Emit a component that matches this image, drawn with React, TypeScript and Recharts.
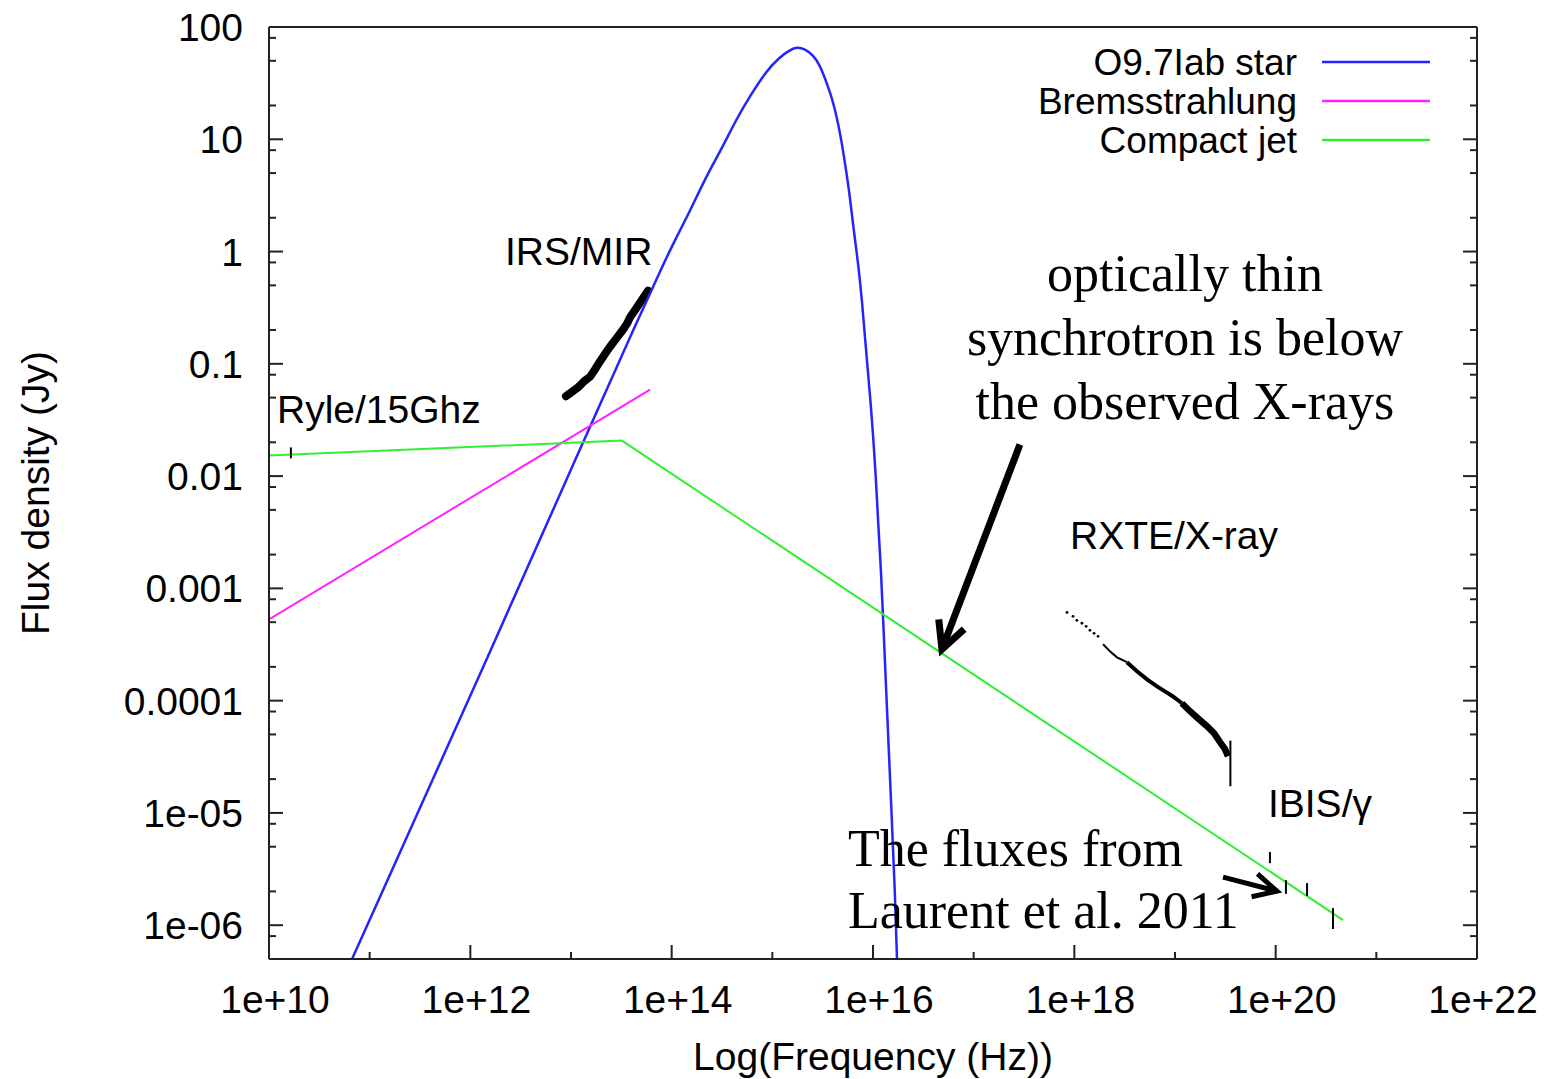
import React from 'react';
import {
  ComposedChart, Line, Scatter, XAxis, YAxis, ErrorBar,
  ReferenceLine, ReferenceDot, Legend,
} from 'recharts';

const SANS = '"Liberation Sans", Arial, sans-serif';
const SERIF = '"Liberation Serif", "Times New Roman", serif';
const AXIS = '#222';
const FS = 39;

// ---------- axes ----------
const xMajorTicks = [1e10, 1e12, 1e14, 1e16, 1e18, 1e20, 1e22];
const xMajorLabels = ['1e+10', '1e+12', '1e+14', '1e+16', '1e+18', '1e+20', '1e+22'];
const xMinorTicks = [1e11, 1e13, 1e15, 1e17, 1e19, 1e21];
const yMajorTicks = [1e-6, 1e-5, 1e-4, 1e-3, 1e-2, 0.1, 1, 10, 100];
const yMajorLabels = ['1e-06', '1e-05', '0.0001', '0.001', '0.01', '0.1', '1', '10', '100'];
const yMinorMultipliers = [2, 5, 8];

// ---------- legend ----------
const legendOrder = ['O9.7Iab star', 'Bremsstrahlung', 'Compact jet'];

// ---------- models ----------
const starFreq = [6.68e10, 1.970e12, 1.228e13, 4.845e13, 8.013e13, 1.104e14, 1.521e14, 2.243e14, 3.020e14, 4.456e14,
  5.998e14, 8.849e14, 1.191e15, 1.497e15, 1.758e15, 2.110e15, 2.534e15, 2.974e15, 3.492e15, 3.913e15,
  4.388e15, 4.808e15, 5.270e15, 5.774e15, 6.183e15, 6.622e15, 7.093e15, 7.775e15, 8.518e15, 9.333e15,
  9.995e15, 1.071e16, 1.121e16, 1.200e16, 1.256e16, 1.377e16, 1.509e16, 1.653e16, 1.731e16];
const starFlux = [5.0e-7, 4.26e-4, 0.01742, 0.2721, 0.7282, 1.320, 2.297, 4.806, 7.701, 15.47,
  24.29, 41.40, 54.05, 62.38, 66.36, 63.68, 56.31, 45.86, 31.07, 23.32,
  15.47, 10.26, 6.145, 3.533, 2.116, 1.267, 0.8070, 0.3702, 0.1327, 0.05275,
  0.02419, 9.23e-3, 4.06e-3, 1.457e-3, 5.79e-4, 8.42e-5, 1.302e-5, 1.974e-6, 5.0e-7];

const bremsFreq = [1e10, 6.10e13];
const bremsFlux = [5.30e-4, 0.0589];

const jetFreq = [1e10, 3.2e13, 4.67e20];
const jetFlux = [0.01525, 0.0207, 1.11e-6];

// ---------- observations ----------
const irsFreq = [8.9e12, 9.6e12, 1.17e13, 1.35e13, 1.55e13, 1.75e13, 1.94e13, 2.2e13, 2.44e13, 2.86e13, 3.28e13,
  3.6e13, 3.85e13, 4.42e13, 5.07e13, 5.82e13];
const irsFlux = [0.0515, 0.0540, 0.0614, 0.0700, 0.0769, 0.0905, 0.105, 0.124, 0.142, 0.171, 0.201,
  0.228, 0.258, 0.310, 0.372, 0.448];

const rxteDotFreq = [8.45e17, 9.70e17, 1.06e18, 1.19e18, 1.31e18, 1.43e18, 1.57e18, 1.72e18];
const rxteDotFlux = [6.11e-4, 5.64e-4, 5.19e-4, 4.89e-4, 4.59e-4, 4.23e-4, 3.98e-4, 3.74e-4];
const rxteFreq = [1.93e18, 2.26e18, 2.65e18, 3.33e18, 4.19e18, 5.27e18, 6.62e18, 7.95e18, 9.55e18, 1.17e19,
  1.41e19, 1.73e19, 2.08e19, 2.44e19, 2.80e19, 3.14e19, 3.36e19];
const rxteFlux = [3.18e-4, 2.75e-4, 2.43e-4, 2.20e-4, 1.83e-4, 1.55e-4, 1.34e-4, 1.21e-4, 1.09e-4, 9.48e-5,
  8.05e-5, 6.83e-5, 5.92e-5, 5.13e-5, 4.27e-5, 3.70e-5, 3.20e-5];

// vertical bars: Ryle, RXTE end, IBIS
const barFreq = [1.65e10, 3.55e19, 8.77e19, 1.265e20, 2.05e20, 3.71e20];
const barLow = [0.0144, 1.73e-5, 3.57e-6, 1.90e-6, 1.82e-6, 9.25e-7];
const barHigh = [0.0180, 4.4e-5, 4.48e-6, 2.52e-6, 2.37e-6, 1.42e-6];

// ---------- annotations (data coordinates) ----------
const sansNotes = [
  { text: 'IRS/MIR', x: 2.21e12, y: 0.763 },
  { text: 'Ryle/15Ghz', x: 1.20e10, y: 0.0300 },
  { text: 'RXTE/X-ray', x: 9.06e17, y: 2.22e-3 },
  { text: 'IBIS/γ', x: 8.38e19, y: 9.18e-6 },
];
const serifNotes = [
  { text: 'optically thin', x: 1.256e19, y: 0.448, anchor: 'middle' },
  { text: 'synchrotron is below', x: 1.256e19, y: 0.1208, anchor: 'middle' },
  { text: 'the observed X-rays', x: 1.256e19, y: 0.0325, anchor: 'middle' },
  { text: 'The fluxes from', x: 5.64e15, y: 3.36e-6, anchor: 'start' },
  { text: 'Laurent et al. 2011', x: 5.64e15, y: 9.44e-7, anchor: 'start' },
];
const arrows = [
  { from: { x: 2.88e17, y: 0.0191 }, to: { x: 4.84e16, y: 2.87e-4 }, w: 7, head: 30 },
  { from: { x: 3.0e19, y: 2.68e-6 }, to: { x: 1.03e20, y: 2.01e-6 }, w: 5, head: 26 },
];

// ---------- derived tables ----------
const pts = (xs: number[], ys: number[]) => xs.map((x, i) => ({ x, y: ys[i] }));
const starData = pts(starFreq, starFlux);
const bremsData = pts(bremsFreq, bremsFlux);
const jetData = pts(jetFreq, jetFlux);
const irsData = pts(irsFreq, irsFlux);
const rxteDots = pts(rxteDotFreq, rxteDotFlux);
const rxteThin = pts(rxteFreq.slice(0, 4), rxteFlux.slice(0, 4));
const rxteMid = pts(rxteFreq.slice(3, 10), rxteFlux.slice(3, 10));
const rxteThick = pts(rxteFreq.slice(9), rxteFlux.slice(9));
const barData = barFreq.map((x, i) => {
  const y = Math.sqrt(barLow[i] * barHigh[i]);
  return { x, y, err: [y - barLow[i], barHigh[i] - y] };
});

const xTicks = [...xMajorTicks, ...xMinorTicks].sort((a, b) => a - b);
const yMinorTicks: number[] = [];
[1e-7, ...yMajorTicks].forEach((m) => yMinorMultipliers.forEach((k) => {
  const v = m * k;
  if (v > 5.01e-7 && v < 100) yMinorTicks.push(v);
}));
const yTicks = [...yMajorTicks, ...yMinorTicks].sort((a, b) => a - b);

const findIdx = (arr: number[], v: number) =>
  arr.findIndex((t) => Math.abs(Math.log10(t) - Math.log10(v)) < 1e-6);

const MAJ = 14;
const MIN = 7;

const BottomTick = (p: any) => {
  const i = findIdx(xMajorTicks, p.payload.value);
  const len = i >= 0 ? MAJ : MIN;
  return (
    <g>
      <line x1={p.x} x2={p.x} y1={p.y} y2={p.y - len} stroke={AXIS} strokeWidth={2} />
      {i >= 0 && (
        <text x={p.x + 6} y={p.y + 54} textAnchor="middle" fontFamily={SANS} fontSize={FS} fill="#000">
          {xMajorLabels[i]}
        </text>
      )}
    </g>
  );
};
const TopTick = (p: any) => {
  const i = findIdx(xMajorTicks, p.payload.value);
  const len = i >= 0 ? MAJ : MIN;
  return <line x1={p.x} x2={p.x} y1={p.y} y2={p.y + len} stroke={AXIS} strokeWidth={2} />;
};
const LeftTick = (p: any) => {
  const i = findIdx(yMajorTicks, p.payload.value);
  const len = i >= 0 ? MAJ : MIN;
  return (
    <g>
      <line x1={p.x} x2={p.x + len} y1={p.y} y2={p.y} stroke={AXIS} strokeWidth={2} />
      {i >= 0 && (
        <text x={p.x - 26} y={p.y} dy="0.36em" textAnchor="end" fontFamily={SANS} fontSize={FS} fill="#000">
          {yMajorLabels[i]}
        </text>
      )}
    </g>
  );
};
const RightTick = (p: any) => {
  const i = findIdx(yMajorTicks, p.payload.value);
  const len = i >= 0 ? MAJ : MIN;
  return <line x1={p.x} x2={p.x - len} y1={p.y} y2={p.y} stroke={AXIS} strokeWidth={2} />;
};

const makeArrow = (w: number, head: number) => (p: any) => {
  const { x1, y1, x2, y2 } = p;
  const ang = Math.atan2(y1 - y2, x1 - x2);
  const a = (27 * Math.PI) / 180;
  const b1x = x2 + head * Math.cos(ang + a);
  const b1y = y2 + head * Math.sin(ang + a);
  const b2x = x2 + head * Math.cos(ang - a);
  const b2y = y2 + head * Math.sin(ang - a);
  return (
    <g>
      <line x1={x1} y1={y1} x2={x2} y2={y2} stroke="#000" strokeWidth={w} />
      <polyline points={`${b1x},${b1y} ${x2},${y2} ${b2x},${b2y}`} fill="none" stroke="#000"
        strokeWidth={w} strokeLinejoin="miter" />
    </g>
  );
};

const renderLegend = (props: any) => {
  const items = (props.payload || [])
    .filter((p: any) => legendOrder.includes(p.value))
    .sort((a: any, b: any) => legendOrder.indexOf(a.value) - legendOrder.indexOf(b.value));
  return (
    <svg width={460} height={160} style={{ display: 'block', overflow: 'visible' }}>
      {items.map((p: any, i: number) => (
        <g key={i}>
          <text x={307} y={32 + i * 39} dy="0.36em" textAnchor="end" fontFamily={SANS} fontSize={37} fill="#000">
            {p.value}
          </text>
          <line x1={332} x2={440} y1={32 + i * 39} y2={32 + i * 39} stroke={p.color} strokeWidth={2.5} />
        </g>
      ))}
    </svg>
  );
};

export default function App() {
  return (
    <div style={{ position: 'absolute', left: 0, top: 0, background: '#fff' }}>
      <ComposedChart width={1548} height={1079} margin={{ top: 0, right: 0, bottom: 0, left: 0 }}>
        <XAxis
          type="number" dataKey="x" scale="log" domain={[1e10, 1e22]} allowDataOverflow
          ticks={xTicks} interval={0} height={120} tickSize={0} tickMargin={0} tickLine={false}
          tick={BottomTick} axisLine={{ stroke: AXIS, strokeWidth: 2 }}
          label={{ value: 'Log(Frequency (Hz))', position: 'insideBottom', offset: 9, fontSize: FS, fontFamily: SANS, fill: '#000' }}
        />
        <XAxis
          xAxisId="top" orientation="top" type="number" scale="log" domain={[1e10, 1e22]} allowDataOverflow
          ticks={xTicks} interval={0} height={27} tickSize={0} tickMargin={0} tickLine={false}
          tick={TopTick} axisLine={{ stroke: AXIS, strokeWidth: 2 }}
        />
        <YAxis
          type="number" dataKey="y" scale="log" domain={[5e-7, 100]} allowDataOverflow
          ticks={yTicks} interval={0} width={269} tickSize={0} tickMargin={0} tickLine={false}
          tick={LeftTick} axisLine={{ stroke: AXIS, strokeWidth: 2 }}
          label={{ value: 'Flux density (Jy)', angle: -90, position: 'insideLeft', offset: 35, fontSize: FS, fontFamily: SANS, fill: '#000', style: { textAnchor: 'middle' } }}
        />
        <YAxis
          yAxisId="right" orientation="right" type="number" scale="log" domain={[5e-7, 100]} allowDataOverflow
          ticks={yTicks} interval={0} width={71} tickSize={0} tickMargin={0} tickLine={false}
          tick={RightTick} axisLine={{ stroke: AXIS, strokeWidth: 2 }}
        />

        <Line data={irsData} dataKey="y" type="linear" stroke="#000" strokeWidth={8} strokeLinecap="round"
          strokeLinejoin="round" dot={false} legendType="none" isAnimationActive={false} />
        <Line data={rxteThin} dataKey="y" type="linear" stroke="#000" strokeWidth={2} dot={false}
          legendType="none" isAnimationActive={false} />
        <Line data={rxteMid} dataKey="y" type="linear" stroke="#000" strokeWidth={4} dot={false}
          legendType="none" isAnimationActive={false} />
        <Line data={rxteThick} dataKey="y" type="linear" stroke="#000" strokeWidth={6.5} dot={false}
          legendType="none" isAnimationActive={false} />

        <Line name="O9.7Iab star" data={starData} dataKey="y" type="basis" stroke="#2424ff" strokeWidth={2.5}
          dot={false} isAnimationActive={false} />
        <Line name="Bremsstrahlung" data={bremsData} dataKey="y" type="linear" stroke="#ff22ff" strokeWidth={2}
          dot={false} isAnimationActive={false} />
        <Line name="Compact jet" data={jetData} dataKey="y" type="linear" stroke="#33ee33" strokeWidth={2}
          dot={false} isAnimationActive={false} />

        <Scatter data={rxteDots} dataKey="y" fill="#000" legendType="none" isAnimationActive={false}
          shape={(p: any) => <circle cx={p.cx} cy={p.cy} r={1.4} fill="#000" />} />
        <Scatter data={barData} dataKey="y" legendType="none" isAnimationActive={false}
          shape={() => <g />}>
          <ErrorBar dataKey="err" direction="y" width={0} stroke="#000" strokeWidth={2} isAnimationActive={false} />
        </Scatter>

        {sansNotes.map((n, i) => (
          <ReferenceDot key={`s${i}`} x={n.x} y={n.y} r={0}
            shape={(p: any) => (
              <text x={p.cx} y={p.cy} textAnchor="start" fontFamily={SANS} fontSize={FS} fill="#000">{n.text}</text>
            )} />
        ))}
        {serifNotes.map((n, i) => (
          <ReferenceDot key={`f${i}`} x={n.x} y={n.y} r={0}
            shape={(p: any) => (
              <text x={p.cx} y={p.cy} textAnchor={n.anchor} fontFamily={SERIF} fontSize={52} fill="#000">{n.text}</text>
            )} />
        ))}
        {arrows.map((a, i) => (
          <ReferenceLine key={`a${i}`} segment={[a.from, a.to]} shape={makeArrow(a.w, a.head)} />
        ))}

        <Legend content={renderLegend} layout="horizontal" verticalAlign="middle" align="center"
          wrapperStyle={{ left: 990, top: 30, width: 460, height: 160 }} />
      </ComposedChart>
    </div>
  );
}
